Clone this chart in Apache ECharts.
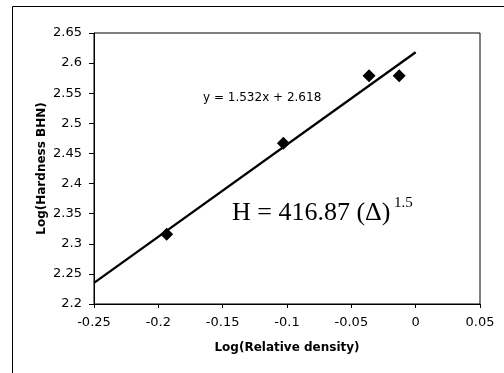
<!DOCTYPE html>
<html>
<head>
<meta charset="utf-8">
<script src="https://cdn.jsdelivr.net/npm/echarts@6/dist/echarts.min.js"></script>
<style>
  html, body { margin: 0; padding: 0; background: #fff; }
  #chart { width: 504px; height: 373px; }
</style>
</head>
<body>
<div id="chart"></div>
<script>
// measured points: log(relative density) vs log(hardness BHN)
const logDensity = [-0.1935, -0.1028, -0.0362, -0.0128];
const logHardness = [2.316, 2.467, 2.579, 2.579];

// linear fit shown on the chart
const slope = 1.532;
const intercept = 2.618;
const fitRange = [-0.25, 0];

const xTicks = { min: -0.25, max: 0.05, step: 0.05 };
const yTicks = { min: 2.2, max: 2.65, step: 0.05 };

const fitLabel = 'y = 1.532x + 2.618';
const powerLaw = 'H = 416.87 (Δ)';
const powerExp = '1.5';

const chart = echarts.init(document.getElementById('chart'));

const font = 'DejaVu Sans';

const option = {
    animation: false,
    backgroundColor: '#fff',
    grid: {
        left: 94,
        top: 33,
        right: 24,
        bottom: 69,
        show: true,
        borderColor: '#000',
        borderWidth: 1,
        backgroundColor: '#fff'
    },
    xAxis: {
        type: 'value',
        min: xTicks.min,
        max: xTicks.max,
        interval: xTicks.step,
        name: 'Log(Relative density)',
        nameLocation: 'middle',
        nameGap: 38,
        nameMoveOverlap: false,
        nameTextStyle: { fontFamily: font, fontWeight: 'bold', fontSize: 12, color: '#000' },
        axisLine: { onZero: false, lineStyle: { color: '#000', width: 1 } },
        axisTick: { show: true, length: 4, lineStyle: { color: '#000' } },
        axisLabel: {
            fontFamily: font, fontSize: 13, color: '#000', margin: 12,
            formatter: v => String(Math.round(v * 100) / 100)
        },
        splitLine: { show: false }
    },
    yAxis: {
        type: 'value',
        min: yTicks.min,
        max: yTicks.max,
        interval: yTicks.step,
        name: 'Log(Hardness BHN)',
        nameLocation: 'middle',
        nameGap: 46,
        nameMoveOverlap: false,
        nameTextStyle: { fontFamily: font, fontWeight: 'bold', fontSize: 12, color: '#000' },
        axisLine: { show: true, onZero: false, lineStyle: { color: '#000', width: 1 } },
        axisTick: { show: true, length: 5, lineStyle: { color: '#000' } },
        axisLabel: {
            fontFamily: font, fontSize: 13, color: '#000', margin: 12,
            formatter: v => String(Math.round(v * 100) / 100)
        },
        splitLine: { show: false }
    },
    series: [
        {
            name: 'fit',
            type: 'line',
            data: fitRange.map(x => [x, slope * x + intercept]),
            symbol: 'none',
            lineStyle: { color: '#000', width: 2.3 },
            z: 2
        },
        {
            name: 'data',
            type: 'scatter',
            data: logDensity.map((x, i) => [x, logHardness[i]]),
            symbol: 'diamond',
            symbolSize: 13,
            itemStyle: { color: '#000', opacity: 1 },
            z: 3
        }
    ],
    graphic: [
        {
            type: 'rect',
            shape: { x: 12.5, y: 6.5, width: 800, height: 800 },
            style: { fill: 'none', stroke: '#000', lineWidth: 1 },
            silent: true,
            z: 100
        },
        {
            type: 'text',
            left: 203,
            top: 92,
            style: { text: fitLabel, fontFamily: font, fontSize: 12, fill: '#000' },
            z: 100
        },
        {
            type: 'text',
            left: 232,
            top: 200,
            style: { text: powerLaw, fontFamily: 'Liberation Serif', fontSize: 26, fill: '#000' },
            z: 100
        },
        {
            type: 'text',
            left: 394,
            top: 196,
            style: { text: powerExp, fontFamily: 'Liberation Serif', fontSize: 15, fill: '#000' },
            z: 100
        }
    ]
};

chart.setOption(option);
</script>
</body>
</html>
